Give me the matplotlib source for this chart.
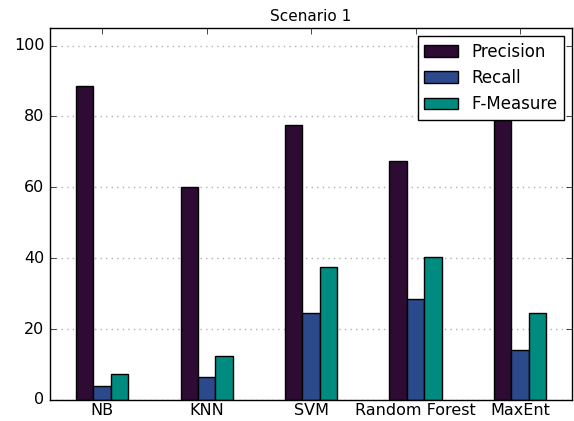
import matplotlib
matplotlib.use("Agg")
import matplotlib.pyplot as plt
import numpy as np

classifiers = ["NB", "KNN", "SVM", "Random Forest", "MaxEnt"]
precision = [88.5, 60.1, 77.5, 67.5, 79.0]
recall = [4.0, 6.6, 24.5, 28.6, 14.2]
f_measure = [7.4, 12.4, 37.4, 40.4, 24.5]

series_names = ["Precision", "Recall", "F-Measure"]
series_values = [precision, recall, f_measure]
series_colors = ["#2d0b33", "#2a4a8b", "#008b80"]

plt.style.use("classic")
plt.rcParams["font.family"] = "DejaVu Sans"

fig = plt.figure(figsize=(5.74, 4.21), dpi=100, facecolor="white")
ax = fig.add_axes([0.087, 0.05, 0.910, 0.884])
ax.set_facecolor("white")

x = np.arange(len(classifiers))
group_width = 0.5
bar_w = group_width / len(series_names)
for i, (name, vals, col) in enumerate(zip(series_names, series_values, series_colors)):
    offset = -group_width / 2 + bar_w * (i + 0.5)
    ax.bar(x + offset, vals, width=bar_w, color=col, edgecolor="black",
           linewidth=1.0, label=name, align="center")

ax.set_xlim(-0.5, len(classifiers) - 0.5)
ax.set_ylim(0, 105)
ax.set_xticks(x)
ax.set_xticklabels(classifiers, fontsize=11.5)
ax.set_yticks(np.arange(0, 101, 20))
ax.tick_params(axis="y", labelsize=11.5)
ax.tick_params(axis="x", pad=2)
ax.yaxis.grid(True, linestyle=":", color="#b0b0b0", linewidth=1.0)
ax.xaxis.grid(False)
ax.set_axisbelow(True)
ax.set_title("Scenario 1", fontsize=11)

leg = ax.legend(loc="upper right", fontsize=12, fancybox=False, frameon=True)
leg.get_frame().set_edgecolor("black")

fig.savefig("out.png", dpi=100, facecolor="white")
